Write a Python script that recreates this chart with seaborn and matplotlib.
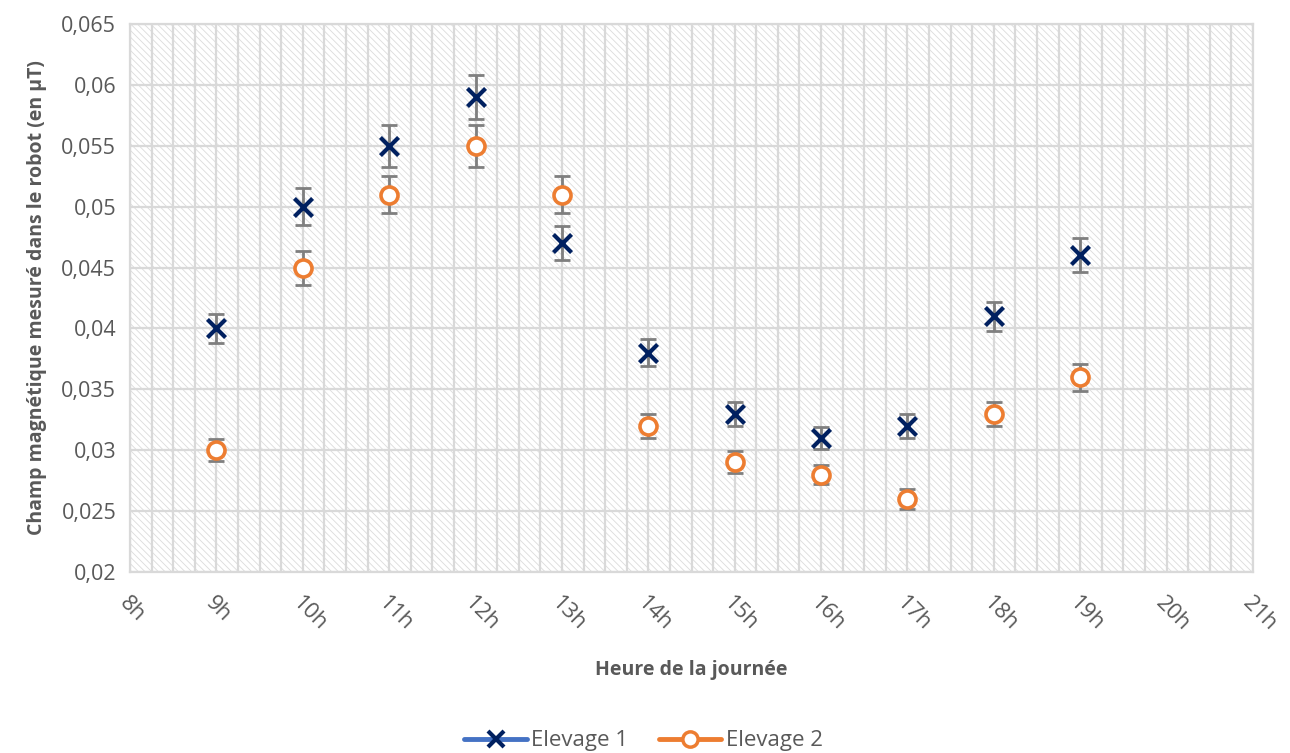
import numpy as np
import pandas as pd
import seaborn as sns
import matplotlib.pyplot as plt
from matplotlib.lines import Line2D
from matplotlib.patches import Rectangle
from matplotlib.ticker import FuncFormatter, MultipleLocator

# data
heures = [9, 10, 11, 12, 13, 14, 15, 16, 17, 18, 19]
elevage1 = [0.040, 0.050, 0.055, 0.059, 0.047, 0.038, 0.033, 0.031, 0.032, 0.041, 0.046]
elevage2 = [0.030, 0.045, 0.051, 0.055, 0.051, 0.032, 0.029, 0.028, 0.026, 0.033, 0.036]
err1 = [0.0012, 0.0015, 0.0017, 0.0018, 0.0014, 0.0011, 0.0010, 0.0009, 0.0010, 0.0012, 0.0014]
err2 = [0.0009, 0.0014, 0.0015, 0.0017, 0.0015, 0.0010, 0.0009, 0.0008, 0.0008, 0.0010, 0.0011]
xticks = list(range(8, 22))
xlabels = [f"{h}h" for h in xticks]
yticks = [0.02, 0.025, 0.03, 0.035, 0.04, 0.045, 0.05, 0.055, 0.06, 0.065]

sns.set_style('white')
plt.rcParams['font.family'] = ['Open Sans', 'DejaVu Sans']
plt.rcParams['hatch.color'] = '#dcdcdc'
plt.rcParams['hatch.linewidth'] = 0.6

grey = '#595959'
grid_c = '#d9d9d9'
navy = '#002060'
orange = '#ed7d31'

df = pd.DataFrame({
    'heure': heures * 2,
    'champ': elevage1 + elevage2,
    'err': err1 + err2,
    'serie': ['Elevage 1'] * len(heures) + ['Elevage 2'] * len(heures),
})

fig = plt.figure(figsize=(12.9, 7.53), dpi=100)
ax = fig.add_axes([0.1008, 0.2404, 0.8705, 0.7276])

# hatched background
ax.add_patch(Rectangle((0, 0), 1, 1, transform=ax.transAxes, facecolor='white',
                       edgecolor='#dcdcdc', hatch='\\\\\\\\\\', lw=0, zorder=0))

# error bars
ax.errorbar(heures, elevage1, yerr=err1, fmt='none', ecolor='#7f7f7f',
            elinewidth=2, capsize=6, capthick=2, zorder=3)
ax.errorbar(heures, elevage2, yerr=err2, fmt='none', ecolor='#7f7f7f',
            elinewidth=2, capsize=6, capthick=2, zorder=3)

sns.scatterplot(data=df[df.serie == 'Elevage 1'], x='heure', y='champ', ax=ax,
                marker='x', s=170, color=navy, linewidth=3, zorder=4, legend=False)
sns.scatterplot(data=df[df.serie == 'Elevage 2'], x='heure', y='champ', ax=ax,
                marker='o', s=150, facecolor='white', edgecolor=orange,
                linewidth=2.6, zorder=4, legend=False)

ax.set_xlim(8, 21)
ax.set_ylim(0.02, 0.065)
ax.set_xticks(xticks)
ax.set_xticklabels(xlabels, rotation=-45, ha='left', rotation_mode='anchor')
ax.xaxis.set_minor_locator(MultipleLocator(0.25))
ax.set_yticks(yticks)
ax.yaxis.set_major_formatter(FuncFormatter(lambda v, p: f"{v:g}".replace('.', ',')))

ax.grid(True, which='both', axis='x', color=grid_c, lw=1.6, zorder=1)
ax.grid(True, which='major', axis='y', color=grid_c, lw=1.6, zorder=1)
ax.set_axisbelow(True)

ax.tick_params(axis='x', which='both', direction='out', length=7, width=1.6,
               color=grid_c, labelsize=16, labelcolor=grey, pad=8)
ax.tick_params(axis='y', length=0, labelsize=15.5, labelcolor=grey, pad=10)
for s in ax.spines.values():
    s.set_color(grid_c)
    s.set_linewidth(1.6)

ax.set_xlabel('Heure de la journée', fontsize=14, fontweight='bold', color=grey, labelpad=18)
ax.set_ylabel('Champ magnétique mesuré dans le robot (en µT)', fontsize=14,
              fontweight='bold', color=grey, labelpad=10)

handles = [
    Line2D([], [], color='#4472c4', lw=3.5, marker='x', markersize=11,
           markeredgecolor=navy, markeredgewidth=3),
    Line2D([], [], color=orange, lw=3.5, marker='o', markersize=11,
           markerfacecolor='white', markeredgecolor=orange, markeredgewidth=2.5),
]
fig.legend(handles, ['Elevage 1', 'Elevage 2'], loc='center', bbox_to_anchor=(0.499, 0.016),
           ncol=2, frameon=False, fontsize=16, labelcolor=grey, handlelength=2.8,
           columnspacing=1.4, handletextpad=0.2)

fig.savefig('out.png', dpi=100)
